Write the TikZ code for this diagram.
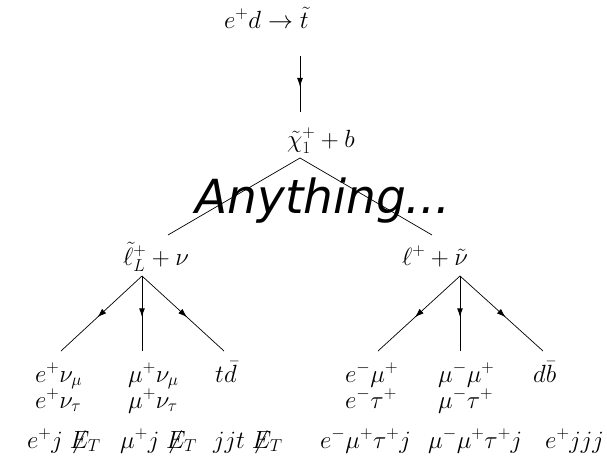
\documentclass[tikz,border=0pt]{standalone}
\usepackage{fontspec}
\newfontfamily\anyfont{DejaVu Sans}
\usetikzlibrary{decorations.markings,arrows.meta}
\newcommand{\myET}{\mathord{\not}E_T}
\begin{document}
\begin{tikzpicture}[x=1pt,y=-1pt,
  lbl/.style={anchor=base west,inner sep=0pt,font=\fontsize{24}{28}\selectfont},
  conn/.style={line width=0.7pt},
  midarrow/.style={line width=0.7pt,decoration={markings,mark=at position 0.55 with {\arrow{Latex[length=9pt,width=6pt]}}},postaction={decorate}}]
\useasboundingbox (0,0) rectangle (607,464);
% texts
\node[lbl] (top) at (224,28) {$e^+d\rightarrow\tilde t$};
\node[lbl] (chi) at (287,147) {$\tilde\chi_1^+ + b$};
\node[lbl] (sl) at (123,265) {$\tilde\ell_L^+ + \nu$};
\node[lbl] (sn) at (402,265) {$\ell^+ + \tilde\nu$};
\node[lbl] (a1) at (35,382) {$e^+\nu_\mu$};
\node[lbl] (a2) at (35,408) {$e^+\nu_\tau$};
\node[lbl] (b1) at (128,382) {$\mu^+\nu_\mu$};
\node[lbl] (b2) at (128,408) {$\mu^+\nu_\tau$};
\node[lbl] (c1) at (215,382) {$t\bar d$};
\node[lbl] (d1) at (345,382) {$e^-\mu^+$};
\node[lbl] (d2) at (345,408) {$e^-\tau^+$};
\node[lbl] (e1) at (438,382) {$\mu^-\mu^+$};
\node[lbl] (e2) at (438,408) {$\mu^-\tau^+$};
\node[lbl] (f1) at (533,382) {$d\bar b$};
\node[lbl] (ra) at (27,448) {$e^+j\;\myET$};
\node[lbl] (rb) at (120,448) {$\mu^+j\;\myET$};
\node[lbl] (rc) at (213,448) {$jjt\;\myET$};
\node[lbl] (rd) at (320,448) {$e^-\mu^+\tau^+j$};
\node[lbl] (re) at (428,448) {$\mu^-\mu^+\tau^+j$};
\node[lbl] (rf) at (545,448) {$e^+jjj$};
% connector points
\coordinate (t0) at (300,56);
\coordinate (t1) at (300,112);
\coordinate (ap) at (300,158);
\coordinate (lp) at (168,235);
\coordinate (rp) at (432,235);
\coordinate (la) at (142,276);
\coordinate (l1) at (61,351);
\coordinate (l2) at (142,351);
\coordinate (l3) at (224,351);
\coordinate (ra0) at (460,276);
\coordinate (r1) at (378,351);
\coordinate (r2) at (460,351);
\coordinate (r3) at (543,351);
\draw[midarrow] (t0) -- (t1);
\draw[conn] (lp) -- (ap) -- (rp);
\draw[midarrow] (la) -- (l1);
\draw[midarrow,line width=1pt] (la) -- (l2);
\draw[midarrow] (la) -- (l3);
\draw[midarrow] (ra0) -- (r1);
\draw[midarrow,line width=1pt] (ra0) -- (r2);
\draw[midarrow] (ra0) -- (r3);
\node[anchor=base,inner sep=0pt,font=\anyfont\itshape\fontsize{47}{51}\selectfont] (any) at (323,213) {Anything...};
\end{tikzpicture}
\end{document}
